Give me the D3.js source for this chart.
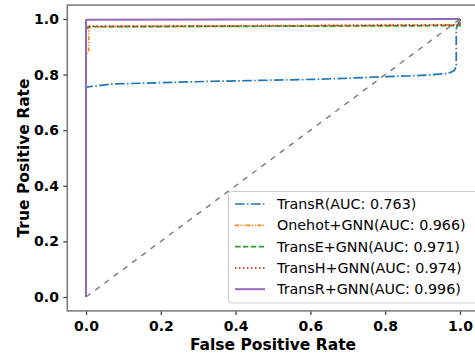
<!DOCTYPE html>
<html><head><meta charset="utf-8">
<script src="https://cdn.jsdelivr.net/npm/d3@7"></script>
<style>body{margin:0;background:#fff}svg{display:block}</style>
</head><body>
<svg id="c" width="475" height="356"></svg>
<script>
const xTicks = [0.0, 0.2, 0.4, 0.6, 0.8, 1.0];
const yTicks = [0.0, 0.2, 0.4, 0.6, 0.8, 1.0];
const seriesNames = ["TransR(AUC: 0.763)", "Onehot+GNN(AUC: 0.966)", "TransE+GNN(AUC: 0.971)", "TransH+GNN(AUC: 0.974)", "TransR+GNN(AUC: 0.996)"];
const transR_fpr = [0, 0, 0.005, 0.07, 0.2, 0.34, 0.5, 0.61, 0.7, 0.785, 0.86, 0.92, 0.96, 0.975, 0.985, 0.99, 0.99, 1.0];
const transR_tpr = [0, 0.752, 0.756, 0.766, 0.771, 0.776, 0.780, 0.783, 0.787, 0.792, 0.795, 0.799, 0.803, 0.808, 0.815, 0.83, 0.965, 1.0];
const onehot_fpr = [0, 0, 0.004, 0.007, 0.008, 0.5, 1.0, 1.0];
const onehot_tpr = [0, 0.87, 0.88, 0.885, 0.972, 0.975, 0.978, 1.0];
const transE_fpr = [0, 0, 0.005, 0.5, 1.0, 1.0];
const transE_tpr = [0, 0.968, 0.972, 0.974, 0.976, 1.0];
const transH_fpr = [0, 0, 0.005, 0.5, 1.0, 1.0];
const transH_tpr = [0, 0.96, 0.974, 0.976, 0.979, 1.0];
const transRG_fpr = [0, 0, 0.003, 1.0];
const transRG_tpr = [0, 0.996, 0.997, 1.0];
const diag_fpr = [0, 1];
const diag_tpr = [0, 1];

const colors = ["#1f77b4", "#ff7f0e", "#2ca02c", "#d62728", "#9467bd"];
const dashes = ["9.6,2.4,1.5,2.4", "4,1.6,1.2,1.6,1.2,1.6", "5.5,2.4", "1.5,2.5", null];
const widths = [1.7, 1.7, 1.7, 1.7, 2];

const series = [
  {x: transR_fpr, y: transR_tpr},
  {x: onehot_fpr, y: onehot_tpr},
  {x: transE_fpr, y: transE_tpr},
  {x: transH_fpr, y: transH_tpr},
  {x: transRG_fpr, y: transRG_tpr}
];

const svg = d3.select("#c");
const x = d3.scaleLinear().domain([-0.05, 1.05]).range([67.3, 478.7]);
const y = d3.scaleLinear().domain([-0.05, 1.05]).range([310.9, 5.1]);
const font = "DejaVu Sans, sans-serif";

const line = d3.line().x(d => x(d[0])).y(d => y(d[1]));

const g = svg.append("g");
series.forEach((s, i) => {
  const pts = s.x.map((v, j) => [v, s.y[j]]);
  g.append("path").attr("d", line(pts)).attr("fill", "none")
    .attr("stroke", colors[i]).attr("stroke-width", widths[i])
    .attr("stroke-dasharray", dashes[i]);
});
g.append("path").attr("d", line(diag_fpr.map((v, j) => [v, diag_tpr[j]])))
  .attr("fill", "none").attr("stroke", "#808080").attr("stroke-width", 1.5)
  .attr("stroke-dasharray", "5.5,6");

// axes
const xAxis = d3.axisBottom(x).tickValues(xTicks).tickFormat(d3.format(".1f")).tickSize(4).tickSizeOuter(0);
const yAxis = d3.axisLeft(y).tickValues(yTicks).tickFormat(d3.format(".1f")).tickSize(4).tickSizeOuter(0);
const gx = svg.append("g").attr("transform", "translate(0,310.9)").call(xAxis);
const gy = svg.append("g").attr("transform", "translate(67.3,0)").call(yAxis);
[gx, gy].forEach(a => {
  a.select(".domain").remove();
  a.selectAll(".tick line").attr("stroke", "#333").attr("stroke-width", 1.2);
  a.selectAll(".tick text").attr("font-family", font).attr("font-weight", "bold")
    .attr("font-size", 14).attr("fill", "#000");
});
gx.selectAll(".tick text").attr("dy", "0.95em");
gy.selectAll(".tick text").attr("dx", "-0.1em");

// spines
svg.append("rect").attr("x", 67.3).attr("y", 5.1).attr("width", 478.7 - 67.3).attr("height", 310.9 - 5.1)
  .attr("fill", "none").attr("stroke", "#777").attr("stroke-width", 1.5);

// labels
svg.append("text").attr("x", 273).attr("y", 350).attr("text-anchor", "middle")
  .attr("font-family", font).attr("font-weight", "bold").attr("font-size", 15.5).text("False Positive Rate");
svg.append("text").attr("transform", "translate(29,158) rotate(-90)").attr("text-anchor", "middle")
  .attr("font-family", font).attr("font-weight", "bold").attr("font-size", 15.5).text("True Positive Rate");

// legend
const lg = svg.append("g");
lg.append("rect").attr("x", 228.5).attr("y", 191.5).attr("width", 260).attr("height", 111.5).attr("rx", 3)
  .attr("fill", "#fff").attr("fill-opacity", 0.8).attr("stroke", "#ccc").attr("stroke-width", 1);
seriesNames.forEach((n, i) => {
  const yy = 204 + i * 21.3;
  lg.append("line").attr("x1", 235).attr("x2", 265).attr("y1", yy).attr("y2", yy)
    .attr("stroke", colors[i]).attr("stroke-width", widths[i]).attr("stroke-dasharray", dashes[i]);
  lg.append("text").attr("x", 277).attr("y", yy).attr("dy", "0.36em")
    .attr("font-family", font).attr("font-size", 14.3).attr("fill", "#000").text(n);
});
</script>
</body></html>
